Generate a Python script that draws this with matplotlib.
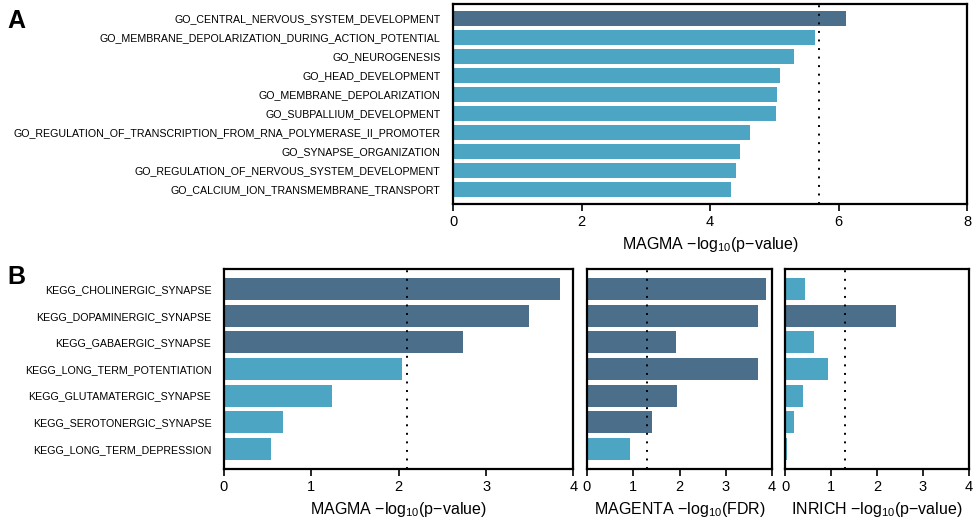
import matplotlib.pyplot as plt

plt.rcParams['font.family'] = ['Liberation Sans', 'DejaVu Sans']
plt.rcParams['mathtext.default'] = 'regular'

DARK = '#4b6f8a'
LIGHT = '#4ca5c2'

# panel A: GO terms, MAGMA
go_terms = [
    "GO_CENTRAL_NERVOUS_SYSTEM_DEVELOPMENT",
    "GO_MEMBRANE_DEPOLARIZATION_DURING_ACTION_POTENTIAL",
    "GO_NEUROGENESIS",
    "GO_HEAD_DEVELOPMENT",
    "GO_MEMBRANE_DEPOLARIZATION",
    "GO_SUBPALLIUM_DEVELOPMENT",
    "GO_REGULATION_OF_TRANSCRIPTION_FROM_RNA_POLYMERASE_II_PROMOTER",
    "GO_SYNAPSE_ORGANIZATION",
    "GO_REGULATION_OF_NERVOUS_SYSTEM_DEVELOPMENT",
    "GO_CALCIUM_ION_TRANSMEMBRANE_TRANSPORT",
]
go_magma = [6.11, 5.63, 5.30, 5.09, 5.04, 5.02, 4.62, 4.47, 4.40, 4.32]
go_cutoff = 5.69

# panel B: KEGG pathways, three methods
kegg_terms = [
    "KEGG_CHOLINERGIC_SYNAPSE",
    "KEGG_DOPAMINERGIC_SYNAPSE",
    "KEGG_GABAERGIC_SYNAPSE",
    "KEGG_LONG_TERM_POTENTIATION",
    "KEGG_GLUTAMATERGIC_SYNAPSE",
    "KEGG_SEROTONERGIC_SYNAPSE",
    "KEGG_LONG_TERM_DEPRESSION",
]
kegg_magma = [3.85, 3.49, 2.74, 2.04, 1.24, 0.68, 0.54]
kegg_magenta = [3.88, 3.70, 1.92, 3.70, 1.95, 1.40, 0.93]
kegg_inrich = [0.43, 2.41, 0.63, 0.93, 0.39, 0.20, 0.04]
kegg_magma_cutoff = 2.10
kegg_magenta_cutoff = 1.30
kegg_inrich_cutoff = 1.30


def bar_panel(ax, labels, values, cutoff, xmax, xticks, xlabel, show_labels=True):
    n = len(values)
    pos = list(range(n))
    colors = [DARK if v > cutoff else LIGHT for v in values]
    ax.barh(pos, values, height=0.83, color=colors, zorder=2)
    ax.axvline(cutoff, color='black', lw=1.4, ls=(0, (1, 3.4)), zorder=3)
    ax.set_xlim(0, xmax)
    ax.set_ylim(n - 1 + 0.76, -0.76)
    ax.set_xticks(xticks)
    ax.set_yticks(pos)
    if show_labels:
        ax.set_yticklabels(labels, fontsize=7.7)
    else:
        ax.set_yticklabels([])
    ax.tick_params(axis='y', length=0, pad=9)
    ax.tick_params(axis='x', length=5, width=1.2, labelsize=10.5, pad=3)
    for s in ax.spines.values():
        s.set_linewidth(1.6)
    ax.set_xlabel(xlabel, fontsize=11.5, labelpad=4)


fig = plt.figure(figsize=(9.78, 5.24), dpi=100)

axA = fig.add_axes([0.4632, 0.6107, 0.5256, 0.3817])
bar_panel(axA, go_terms, go_magma, go_cutoff, 8, [0, 2, 4, 6, 8],
          "MAGMA \u2212log$_{10}$(p\u2212value)")

axB1 = fig.add_axes([0.2290, 0.1050, 0.3574, 0.3817])
bar_panel(axB1, kegg_terms, kegg_magma, kegg_magma_cutoff, 4, [0, 1, 2, 3, 4],
          "MAGMA \u2212log$_{10}$(p\u2212value)")

axB2 = fig.add_axes([0.6002, 0.1050, 0.1892, 0.3817])
bar_panel(axB2, kegg_terms, kegg_magenta, kegg_magenta_cutoff, 4, [0, 1, 2, 3, 4],
          "MAGENTA \u2212log$_{10}$(FDR)", show_labels=False)

axB3 = fig.add_axes([0.8027, 0.1050, 0.1881, 0.3817])
bar_panel(axB3, kegg_terms, kegg_inrich, kegg_inrich_cutoff, 4, [0, 1, 2, 3, 4],
          "INRICH \u2212log$_{10}$(p\u2212value)", show_labels=False)

fig.text(0.008, 0.982, "A", fontsize=18, fontweight='bold', va='top', ha='left')
fig.text(0.008, 0.494, "B", fontsize=18, fontweight='bold', va='top', ha='left')

fig.savefig("out.png", dpi=100)
